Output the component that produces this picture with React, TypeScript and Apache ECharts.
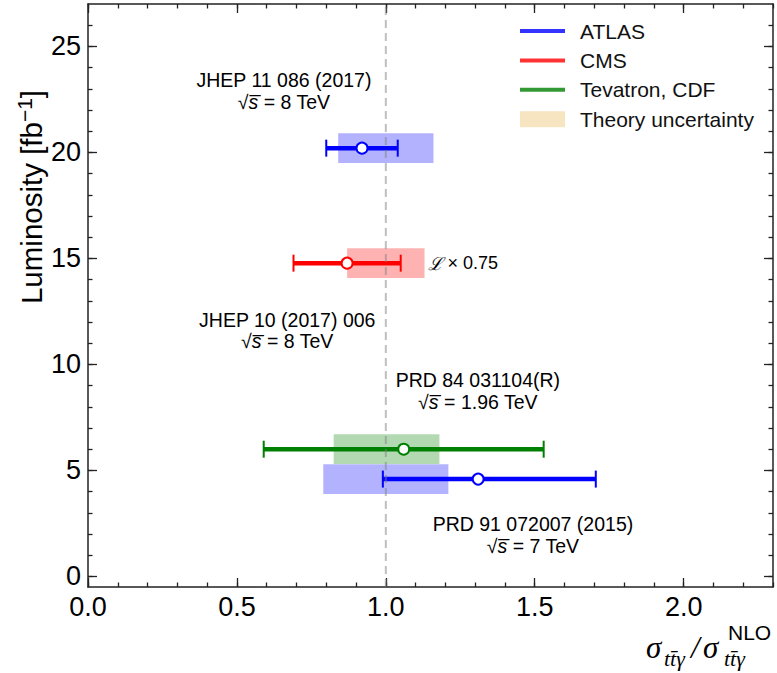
import React, { useEffect, useRef } from "react";
import * as echarts from "echarts";

// ---- data ----
const experiments = ["ATLAS", "CMS", "Tevatron, CDF", "ATLAS"];
const luminosity = [20.2, 19.7, 6.0, 4.59];
const luminosityScale = [1, 0.75, 1, 1];
const ratio = [0.92, 0.87, 1.06, 1.31];
const ratioLow = [0.8, 0.69, 0.59, 0.99];
const ratioHigh = [1.04, 1.05, 1.53, 1.705];
const theoryLow = [0.84, 0.87, 0.825, 0.79];
const theoryHigh = [1.16, 1.13, 1.18, 1.21];

const legendNames = ["ATLAS", "CMS", "Tevatron, CDF"];
const legendColors = ["#0000ff", "#ff0000", "#008000"];
const bandColors = ["rgba(0,0,255,0.3)", "rgba(255,0,0,0.3)", "rgba(0,128,0,0.3)"];
const theoryName = "Theory uncertainty";
const theoryColor = "#f5deb3";

const referenceRatio = [1.0];

const refTitles = ["JHEP 11 086 (2017)", "JHEP 10 (2017) 006", "PRD 84 031104(R)", "PRD 91 072007 (2015)"];
const refEnergies = ["8", "8", "1.96", "7"];
const refX = [0.658, 0.669, 1.309, 1.494];
const refY = [22.9, 11.6, 8.75, 1.95];

const xMajorTicks = [0, 0.5, 1.0, 1.5, 2.0];
const xMinorTicks = [0, 0.1, 0.2, 0.3, 0.4, 0.5, 0.6, 0.7, 0.8, 0.9, 1.0, 1.1, 1.2, 1.3, 1.4, 1.5, 1.6, 1.7, 1.8, 1.9, 2.0, 2.1, 2.2, 2.3];
const yMajorTicks = [0, 5, 10, 15, 20, 25];
const yMinorTicks = [0, 1, 2, 3, 4, 5, 6, 7, 8, 9, 10, 11, 12, 13, 14, 15, 16, 17, 18, 19, 20, 21, 22, 23, 24, 25, 26];

const X_MIN = 0;
const X_MAX = 2.3;
const Y_MIN = -0.5;
const Y_MAX = 27;

const SANS = '"Liberation Sans", Arial, Helvetica, sans-serif';
const SERIF = '"Liberation Serif", "Times New Roman", serif';
const FRAME = "#222";

const LINE_ICON = "path://M0 0L0.01 0L0.01 16L0 16ZM0 6L45 6L45 10L0 10Z";

function colorOf(i: number) {
  return legendColors[legendNames.indexOf(experiments[i])];
}
function bandOf(i: number) {
  return bandColors[legendNames.indexOf(experiments[i])];
}

function xAxisDef(position: "bottom" | "top", ticks: number[], length: number, labels: boolean, line: boolean) {
  return {
    type: "value",
    min: X_MIN,
    max: X_MAX,
    position,
    axisLine: { show: line, onZero: false, lineStyle: { color: FRAME, width: 1.5 } },
    axisTick: { show: true, inside: true, length, customValues: ticks, lineStyle: { color: FRAME, width: 1.3 } },
    axisLabel: labels
      ? {
          show: true,
          customValues: ticks,
          formatter: (v: number) => v.toFixed(1),
          fontFamily: SANS,
          fontSize: 27,
          color: "#000",
          margin: 6,
        }
      : { show: false },
    splitLine: { show: false },
  };
}

function yAxisDef(position: "left" | "right", ticks: number[], length: number, labels: boolean, line: boolean) {
  return {
    type: "value",
    min: Y_MIN,
    max: Y_MAX,
    position,
    axisLine: { show: line, onZero: false, lineStyle: { color: FRAME, width: 1.5 } },
    axisTick: { show: true, inside: true, length, customValues: ticks, lineStyle: { color: FRAME, width: 1.3 } },
    axisLabel: labels
      ? {
          show: true,
          customValues: ticks,
          formatter: (v: number) => String(v),
          fontFamily: SANS,
          fontSize: 27,
          color: "#000",
          margin: 7,
        }
      : { show: false },
    splitLine: { show: false },
  };
}

export default function App() {
  const ref = useRef<HTMLDivElement>(null);

  useEffect(() => {
    document.body.style.margin = "0";
    if (!ref.current) return;
    const chart = echarts.init(ref.current, null, { renderer: "svg" });

    const points = ratio.map((r, i) => [
      r,
      luminosity[i] * luminosityScale[i],
      ratioLow[i],
      ratioHigh[i],
      theoryLow[i],
      theoryHigh[i],
      luminosityScale[i],
    ]);
    const annotations = refTitles.map((t, i) => [refX[i], refY[i], i]);

    const option: any = {
      animation: false,
      backgroundColor: "#fff",
      grid: { left: 88, top: 4, right: 4, bottom: 86, containLabel: false },
      xAxis: [
        xAxisDef("bottom", xMajorTicks, 9, true, true),
        xAxisDef("bottom", xMinorTicks, 4.5, false, false),
        xAxisDef("top", xMajorTicks, 9, false, true),
        xAxisDef("top", xMinorTicks, 4.5, false, false),
      ],
      yAxis: [
        yAxisDef("left", yMajorTicks, 9, true, true),
        yAxisDef("left", yMinorTicks, 4.5, false, false),
        yAxisDef("right", yMajorTicks, 9, false, true),
        yAxisDef("right", yMinorTicks, 4.5, false, false),
      ],
      legend: {
        orient: "vertical",
        left: 515,
        top: 15.5,
        itemWidth: 45,
        itemHeight: 16,
        itemGap: 8.4,
        selectedMode: false,
        textStyle: { fontFamily: SANS, fontSize: 21, color: "#111", lineHeight: 16, padding: [0, 0, 0, 10] },
        data: [
          ...legendNames.map((n, k) => ({ name: n, icon: LINE_ICON, itemStyle: { color: legendColors[k], borderWidth: 0 } })),
          { name: theoryName, icon: "rect", itemStyle: { color: theoryColor, borderWidth: 0 } },
        ],
      },
      graphic: [
        {
          type: "text",
          x: 31,
          y: 197,
          rotation: Math.PI / 2,
          style: {
            text: "{m|Luminosity [fb}{sup|−1}{m|]}",
            align: "center",
            verticalAlign: "middle",
            fill: "#000",
            rich: {
              m: { fontFamily: SANS, fontSize: 29.5, lineHeight: 34, fill: "#000" },
              sup: { fontFamily: SANS, fontSize: 21, lineHeight: 21, verticalAlign: "top", fill: "#000" },
            },
          },
        },
        // x-axis label: sigma_{t tbar gamma} / sigma^{NLO}_{t tbar gamma}
        { type: "text", x: 646, y: 647, style: { text: "σ", fontFamily: SERIF, fontStyle: "italic", fontSize: 31, fill: "#000", align: "left", verticalAlign: "middle" } },
        { type: "text", x: 664, y: 658, style: { text: "tt\u0304γ", fontFamily: SERIF, fontStyle: "italic", fontSize: 22, fill: "#000", align: "left", verticalAlign: "middle" } },
        { type: "text", x: 691, y: 647, style: { text: "/", fontFamily: SERIF, fontStyle: "italic", fontSize: 31, fill: "#000", align: "left", verticalAlign: "middle" } },
        { type: "text", x: 703, y: 647, style: { text: "σ", fontFamily: SERIF, fontStyle: "italic", fontSize: 31, fill: "#000", align: "left", verticalAlign: "middle" } },
        { type: "text", x: 728, y: 632, style: { text: "NLO", fontFamily: SANS, fontSize: 21, fill: "#000", align: "left", verticalAlign: "middle" } },
        { type: "text", x: 724, y: 658, style: { text: "tt\u0304γ", fontFamily: SERIF, fontStyle: "italic", fontSize: 22, fill: "#000", align: "left", verticalAlign: "middle" } },
      ],
      series: [
        // legend carriers
        ...legendNames.map((n, k) => ({ name: n, type: "scatter", data: [], itemStyle: { color: legendColors[k] } })),
        { name: theoryName, type: "scatter", data: [], itemStyle: { color: theoryColor } },
        // theory bands
        {
          name: "bands",
          type: "custom",
          z: 2,
          data: points,
          renderItem: (params: any, api: any) => {
            const i = params.dataIndex;
            const y = api.value(1);
            const half = 0.7;
            const a = api.coord([api.value(4), y + half]);
            const b = api.coord([api.value(5), y - half]);
            return {
              type: "rect",
              shape: { x: a[0], y: a[1], width: b[0] - a[0], height: b[1] - a[1] },
              style: { fill: bandOf(i) },
            };
          },
        },
        // error bars and markers
        {
          name: "measurements",
          type: "custom",
          z: 3,
          data: points,
          renderItem: (params: any, api: any) => {
            const i = params.dataIndex;
            const c = colorOf(i);
            const y = api.value(1);
            const p = api.coord([api.value(0), y]);
            const lo = api.coord([api.value(2), y]);
            const hi = api.coord([api.value(3), y]);
            const cap = 8.5;
            const children: any[] = [
              { type: "line", shape: { x1: lo[0], y1: p[1], x2: hi[0], y2: p[1] }, style: { stroke: c, lineWidth: 4.5 } },
              { type: "line", shape: { x1: lo[0], y1: p[1] - cap, x2: lo[0], y2: p[1] + cap }, style: { stroke: c, lineWidth: 2 } },
              { type: "line", shape: { x1: hi[0], y1: p[1] - cap, x2: hi[0], y2: p[1] + cap }, style: { stroke: c, lineWidth: 2 } },
              { type: "circle", shape: { cx: p[0], cy: p[1], r: 5.5 }, style: { fill: "#fff", stroke: c, lineWidth: 2 } },
            ];
            const scale = api.value(6);
            if (scale !== 1) {
              const t = api.coord([api.value(5), y]);
              children.push({
                type: "text",
                x: t[0] + 3,
                y: p[1],
                style: {
                  text: "{l|ℒ} × " + scale,
                  fontFamily: SANS,
                  fontSize: 18,
                  fill: "#000",
                  align: "left",
                  verticalAlign: "middle",
                  rich: { l: { fontFamily: '"DejaVu Serif", serif', fontStyle: "italic", fontSize: 18, fill: "#000" } },
                },
              });
            }
            return { type: "group", children };
          },
        },
        // reference line at ratio 1
        {
          name: "reference",
          type: "custom",
          z: 4,
          data: referenceRatio.map((v) => [v]),
          renderItem: (params: any, api: any) => {
            const a = api.coord([api.value(0), Y_MIN]);
            const b = api.coord([api.value(0), Y_MAX]);
            return {
              type: "line",
              shape: { x1: a[0], y1: a[1], x2: b[0], y2: b[1] },
              style: { stroke: "rgba(128,128,128,0.5)", lineWidth: 2, lineDash: [8, 5] },
            };
          },
        },
        // publication annotations
        {
          name: "annotations",
          type: "custom",
          z: 5,
          data: annotations,
          renderItem: (params: any, api: any) => {
            const i = api.value(2);
            const p = api.coord([api.value(0), api.value(1)]);
            return {
              type: "text",
              x: p[0],
              y: p[1],
              style: {
                text: refTitles[i] + "\n{r|√}{s|s\u0305} = " + refEnergies[i] + " TeV",
                fontFamily: SANS,
                fontSize: 19.5,
                lineHeight: 21.5,
                fill: "#000",
                align: "center",
                verticalAlign: "middle",
                rich: {
                  r: { fontFamily: SANS, fontSize: 19.5, lineHeight: 21.5, fill: "#000" },
                  s: { fontFamily: SANS, fontStyle: "italic", fontSize: 19.5, lineHeight: 21.5, fill: "#000" },
                },
              },
            };
          },
        },
      ],
    };

    chart.setOption(option);
    return () => chart.dispose();
  }, []);

  return <div ref={ref} style={{ width: 777, height: 673 }} />;
}
